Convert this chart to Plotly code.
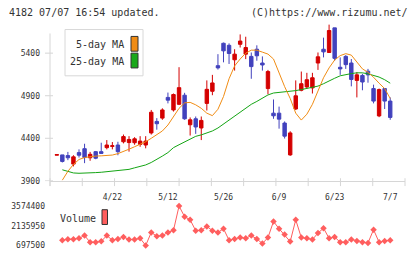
import plotly.graph_objects as go

W, H = 420, 259

# ---- data ----
opens = [4202, 4205, 4197, 4097, 4232, 4278, 4171, 4243, 4243, 4290,
         4305, 4321, 4359, 4350, 4348, 4328, 4321, 4463, 4598, 4637,
         4880, 4733, 4799, 4906, 4559, 4629, 4521, 4810, 4952, 5253,
         5516, 5492, 5322, 5504, 5388, 5362, 5446, 5284, 4984, 4695,
         4695, 4579, 4205, 4744, 4964, 5003, 4992, 5284, 5446, 5408,
         5697, 5234, 5362, 5284, 5080, 5138, 5188, 4984, 4663, 4984,
         4837]
highs = [4210, 4205, 4240, 4201, 4270, 4336, 4240, 4251, 4348, 4379,
         4356, 4359, 4444, 4425, 4413, 4425, 4425, 4733, 4637, 4752,
         4937, 4926, 5235, 4934, 4645, 4656, 4656, 5080, 5145, 5388,
         5524, 5515, 5446, 5620, 5593, 5408, 5492, 5362, 5203, 4856,
         4772, 4598, 4483, 5080, 5184, 5169, 5169, 5408, 5582, 5735,
         5697, 5350, 5377, 5331, 5177, 5157, 5215, 5030, 4984, 4984,
         4880]
lows = [4202, 4116, 4143, 4070, 4174, 4108, 4136, 4154, 4220, 4270,
        4270, 4201, 4340, 4243, 4324, 4300, 4282, 4444, 4501, 4617,
        4810, 4714, 4790, 4617, 4432, 4452, 4379, 4726, 4906, 5207,
        5292, 5273, 5195, 5466, 5330, 5099, 5311, 5195, 4918, 4629,
        4513, 4397, 4194, 4733, 4952, 4984, 4926, 5203, 5350, 5408,
        5311, 5145, 5215, 5010, 4880, 4964, 5053, 4810, 4648, 4744,
        4617]
closes = [4208, 4128, 4171, 4182, 4201, 4174, 4212, 4166, 4222, 4321,
          4312, 4243, 4420, 4386, 4394, 4367, 4367, 4706, 4571, 4733,
          4848, 4914, 4995, 4629, 4617, 4533, 4610, 4975, 5050, 5227,
          5427, 5396, 5388, 5542, 5466, 5242, 5369, 5261, 5184, 4664,
          4625, 4425, 4463, 4899, 5041, 5088, 5111, 5357, 5415, 5666,
          5339, 5215, 5265, 5091, 5145, 5061, 5145, 4837, 4972, 4837,
          4645]
volumes = [None, 1080000, 1150000, 1150000, 1220000, 1420000, 930000, 930000, 1000000, 1420000,
           1080000, 1170000, 1320000, 1130000, 1130000, 1220000, 697500, 1650000, 1370000, 1420000,
           1650000, 1800000, 3574400, 2800000, 2570000, 1780000, 1800000, 2090000, 1780000, 1650000,
           1920000, 1080000, 1170000, 1270000, 1220000, 1420000, 1170000, 840000, 1270000, 2450000,
           1920000, 1490000, 980000, 2570000, 1270000, 1220000, 1130000, 1600000, 1960000, 1220000,
           1320000, 930000, 930000, 1130000, 1030000, 930000, 880000, 1850000, 930000, 1030000,
           1080000]
ma5 = [None, 3908, 4012, 4093, 4151, 4174, 4186, 4191, 4194, 4197,
       4203, 4220, 4243, 4272, 4301, 4330, 4359, 4400, 4440, 4486,
       4556, 4660, 4752, 4816, 4822, 4793, 4752, 4695, 4666, 4741,
       4891, 5099, 5250, 5331, 5400, 5435, 5435, 5412, 5389, 5331,
       5157, 5007, 4868, 4695, 4614, 4683, 4799, 4961, 5111, 5227,
       5319, 5371, 5394, 5377, 5296, 5215, 5175, 5117, 5047, 4984,
       4868]
ma25 = [None, 4030, 4009, 3993, 3989, 3989, 3995, 3997, 4001, 4006,
        4012, 4018, 4024, 4035, 4053, 4070, 4087, 4116, 4151, 4191,
        4232, 4290, 4324, 4359, 4394, 4423, 4440, 4463, 4486, 4521,
        4567, 4614, 4654, 4706, 4752, 4799, 4833, 4874, 4909, 4932,
        4938, 4943, 4952, 4960, 4972, 4984, 4995, 5013, 5041, 5076,
        5105, 5134, 5151, 5160, 5169, 5169, 5157, 5137, 5119, 5088,
        5047]
price_ticks = [3900, 4400, 4900, 5400]
vol_ticks = [697500, 2135950, 3574400]
vol_labels = ["697500", "2135950", "3574400"]
date_ticks = [10, 20, 30, 40, 50, 60]
date_labels = ["4/22", "5/12", "5/26", "6/9", "6/23", "7/7"]
idx = list(range(len(closes)))

MONO = "DejaVu Sans Mono"
TXT = "#333333"
UP, DOWN = "#d40000", "#4242bd"
C_MA5, C_MA25, C_VOL = "#f08c14", "#14a514", "#ff5e5e"
GRID = "#d6d6d6"


def fx(p):
    return p / W


def fy(p):
    return 1 - p / H


fig = go.Figure()
fig.add_trace(go.Candlestick(
    x=idx, open=opens, high=highs, low=lows, close=closes,
    increasing=dict(line=dict(color=UP, width=1), fillcolor=UP),
    decreasing=dict(line=dict(color=DOWN, width=1), fillcolor=DOWN),
    whiskerwidth=0, showlegend=False, hoverinfo="skip", xaxis="x", yaxis="y"))
fig.add_trace(go.Scatter(x=idx, y=ma25, mode="lines", line=dict(color=C_MA25, width=1),
                         showlegend=False, hoverinfo="skip", xaxis="x", yaxis="y"))
fig.add_trace(go.Scatter(x=idx, y=ma5, mode="lines", line=dict(color=C_MA5, width=1),
                         showlegend=False, hoverinfo="skip", xaxis="x", yaxis="y"))
fig.add_trace(go.Scatter(x=idx, y=volumes, mode="lines+markers",
                         line=dict(color=C_VOL, width=1),
                         marker=dict(symbol="diamond", size=5, color=C_VOL),
                         showlegend=False, hoverinfo="skip", xaxis="x2", yaxis="y2"))

xdom = [fx(50), fx(405)]
xr = [-1.22, 62.66]

shapes = []
# y axis line
shapes.append(dict(type="line", xref="paper", yref="paper", x0=fx(50), x1=fx(50),
                   y0=fy(189), y1=fy(34), line=dict(color=GRID, width=1)))
for v in price_ticks:
    shapes.append(dict(type="line", xref="paper", yref="y", x0=fx(45), x1=fx(53),
                       y0=v, y1=v, line=dict(color=GRID, width=1)))
for k in range(12):
    xp = fx(50 + k * 355 / 11)
    shapes.append(dict(type="line", xref="paper", yref="paper", x0=xp, x1=xp,
                       y0=fy(189), y1=fy(181), line=dict(color=GRID, width=1)))
# legend box
shapes.append(dict(type="rect", xref="paper", yref="paper", x0=fx(65), x1=fx(143),
                   y0=fy(77), y1=fy(30), line=dict(color="#d8d8d8", width=1),
                   fillcolor="white"))
shapes.append(dict(type="rect", xref="paper", yref="paper", x0=fx(131), x1=fx(138),
                   y0=fy(52), y1=fy(37), line=dict(color="#333333", width=1),
                   fillcolor=C_MA5))
shapes.append(dict(type="rect", xref="paper", yref="paper", x0=fx(131), x1=fx(138),
                   y0=fy(69), y1=fy(54), line=dict(color="#333333", width=1),
                   fillcolor="#1aa81a"))
shapes.append(dict(type="rect", xref="paper", yref="paper", x0=fx(102), x1=fx(107.5),
                   y0=fy(228), y1=fy(213), line=dict(color="#333333", width=1),
                   fillcolor=C_VOL))

f10 = dict(family=MONO, size=10, color=TXT)
annotations = [
    dict(text="4182 07/07 16:54 updated.", x=fx(7), y=fy(13), xanchor="left"),
    dict(text="(C)https://www.rizumu.net/", x=fx(410), y=fy(13), xanchor="right"),
    dict(text="5-day MA", x=fx(126), y=fy(45.5), xanchor="right"),
    dict(text="25-day MA", x=fx(126), y=fy(62.5), xanchor="right"),
    dict(text="Volume", x=fx(58), y=fy(222), xanchor="left"),
]
for a in annotations:
    a.update(xref="paper", yref="paper", yanchor="middle", showarrow=False, font=f10)

fig.update_layout(
    width=W, height=H, margin=dict(l=0, r=0, t=0, b=0),
    paper_bgcolor="white", plot_bgcolor="white",
    boxgap=0.12,
    showlegend=False,
    shapes=shapes, annotations=annotations,
    xaxis=dict(domain=xdom, range=xr, anchor="y", rangeslider=dict(visible=False),
               showline=True, linecolor=GRID, linewidth=1, showgrid=False, zeroline=False,
               ticks="", tickmode="array", tickvals=date_ticks, ticktext=date_labels,
               tickfont=dict(family=MONO, size=8, color=TXT), ticklabelstandoff=8),
    yaxis=dict(domain=[fy(184), fy(20)], range=[3896.5, 5793], anchor="x",
               showline=False, showgrid=False, zeroline=False, ticks="",
               tickmode="array", tickvals=price_ticks,
               tickfont=dict(family=MONO, size=8, color=TXT), ticklabelstandoff=9),
    xaxis2=dict(domain=xdom, range=xr, anchor="y2", matches="x", visible=False),
    yaxis2=dict(domain=[fy(258), fy(200)], range=[71778, 4243275], anchor="x2",
                showline=False, showgrid=False, zeroline=False, ticks="",
                tickmode="array", tickvals=vol_ticks, ticktext=vol_labels,
                tickfont=dict(family=MONO, size=8, color=TXT), ticklabelstandoff=4),
)

fig.write_html("out.html")
